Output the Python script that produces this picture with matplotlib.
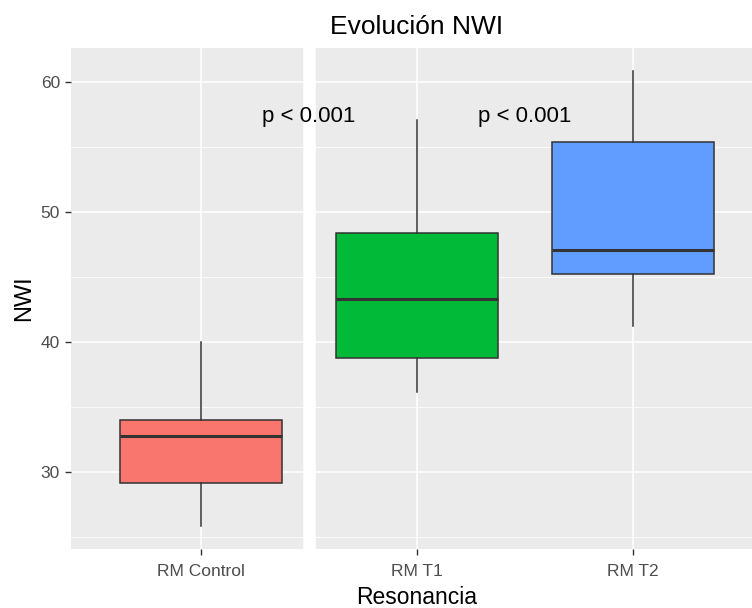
import matplotlib
matplotlib.use("Agg")
import matplotlib.pyplot as plt

plt.rcParams['font.family'] = ['Liberation Sans', 'DejaVu Sans']

groups = ['RM Control', 'RM T1', 'RM T2']
whislo = [25.85, 36.15, 41.25]
q1 = [29.13, 38.77, 45.2]
med = [32.77, 43.3, 47.1]
q3 = [34.0, 48.38, 55.4]
whishi = [40.0, 57.08, 60.8]
fills = ['#F8766D', '#00BA38', '#619CFF']

p_labels = ['p < 0.001', 'p < 0.001']
p_x = [1.5, 2.5]
p_y = [57.3, 57.3]

fig = plt.figure(figsize=(7.52, 6.08), dpi=100)
ax = fig.add_axes([71 / 752, 1 - 549 / 608, 692 / 752, 501 / 608])
ax.set_facecolor('#EBEBEB')
for s in ax.spines.values():
    s.set_visible(False)

ax.set_xlim(0.4, 3.6)
ax.set_ylim(24.08, 62.6)
ax.set_yticks([30, 40, 50, 60])
ax.set_yticks([25, 35, 45, 55], minor=True)
ax.grid(True, which='major', color='white', linewidth=1.1)
ax.grid(True, which='minor', axis='y', color='white', linewidth=0.55)
ax.set_axisbelow(True)

# white separator between control and follow-ups
ax.axvline(1.5, color='white', linewidth=9, zorder=1.5)

stats = []
for i, g in enumerate(groups):
    stats.append({'label': g, 'whislo': whislo[i], 'q1': q1[i], 'med': med[i],
                  'q3': q3[i], 'whishi': whishi[i], 'fliers': []})
bp = ax.bxp(stats, positions=[1, 2, 3], widths=0.75, patch_artist=True,
            showcaps=False,
            boxprops=dict(edgecolor='#333333', linewidth=1.1),
            medianprops=dict(color='#333333', linewidth=2.2),
            whiskerprops=dict(color='#333333', linewidth=1.1),
            zorder=3)
for patch, c in zip(bp['boxes'], fills):
    patch.set_facecolor(c)
ax.set_xticks([1, 2, 3])
ax.set_xticklabels(groups)
ax.tick_params(which='major', length=4, width=1, color='#333333',
               labelcolor='#4D4D4D', labelsize=12.5, pad=4)
ax.tick_params(axis='x', pad=7)
ax.tick_params(which='minor', length=0)

for x, y, t in zip(p_x, p_y, p_labels):
    ax.text(x, y, t, ha='center', va='center', fontsize=16, color='black',
            zorder=5)

ax.set_xlabel('Resonancia', fontsize=16.5, labelpad=5)
ax.set_ylabel('NWI', fontsize=17, labelpad=4)
fig.text(417 / 752, 1 - 27 / 608, 'Evolución NWI', ha='center', va='center',
         fontsize=19)

fig.savefig('out.png', dpi=100)
